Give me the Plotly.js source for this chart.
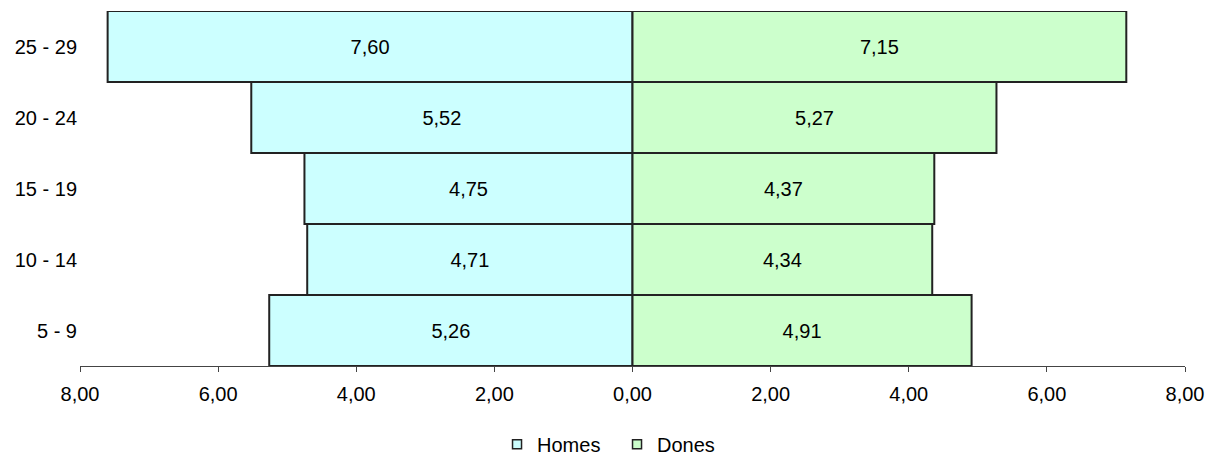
<!DOCTYPE html>
<html>
<head>
<meta charset="utf-8">
<script src="https://cdn.plot.ly/plotly-3.0.1.min.js"></script>
<style>html,body{margin:0;padding:0;background:#fff}#chart{width:1212px;height:456px}</style>
</head>
<body>
<div id="chart"></div>
<script>
var ageGroups = ['5 - 9', '10 - 14', '15 - 19', '20 - 24', '25 - 29'];
var homes = [5.26, 4.71, 4.75, 5.52, 7.60];
var dones = [4.91, 4.34, 4.37, 5.27, 7.15];
var xTickVals = [-8, -6, -4, -2, 0, 2, 4, 6, 8];
var xTickText = ['8,00', '6,00', '4,00', '2,00', '0,00', '2,00', '4,00', '6,00', '8,00'];
var seriesNames = ['Homes', 'Dones'];

function fmt(v) { return v.toFixed(2).replace('.', ','); }

var FONT = 'Liberation Sans, Arial, sans-serif';
var cHomes = '#CCFFFF', cDones = '#CCFFCC';

var traces = [
  {
    type: 'bar', orientation: 'h', name: seriesNames[0],
    y: ageGroups, x: homes.map(function (v) { return -v; }),
    text: homes.map(fmt), textposition: 'inside', insidetextanchor: 'middle',
    textfont: {family: FONT, size: 20, color: '#000'},
    marker: {color: cHomes, line: {color: '#222', width: 2}},
    showlegend: false, hoverinfo: 'skip'
  },
  {
    type: 'bar', orientation: 'h', name: seriesNames[1],
    y: ageGroups, x: dones,
    text: dones.map(fmt), textposition: 'inside', insidetextanchor: 'middle',
    textfont: {family: FONT, size: 20, color: '#000'},
    marker: {color: cDones, line: {color: '#222', width: 2}},
    showlegend: false, hoverinfo: 'skip'
  },
  {
    type: 'scatter', mode: 'markers', name: seriesNames[0], x: [null], y: [null],
    marker: {symbol: 'square', size: 9, color: cHomes, line: {color: '#222', width: 1.5}},
    showlegend: true
  },
  {
    type: 'scatter', mode: 'markers', name: seriesNames[1], x: [null], y: [null],
    marker: {symbol: 'square', size: 9, color: cDones, line: {color: '#222', width: 1.5}},
    showlegend: true
  }
];

var layout = {
  width: 1212, height: 456,
  margin: {l: 80, r: 27, t: 11, b: 90, pad: 0, autoexpand: false},
  paper_bgcolor: '#fff', plot_bgcolor: '#fff',
  font: {family: FONT, size: 20, color: '#000'},
  barmode: 'relative', bargap: 0,
  xaxis: {
    range: [-8, 8], tickmode: 'array', tickvals: xTickVals, ticktext: xTickText,
    showgrid: false, zeroline: true, zerolinecolor: '#222', zerolinewidth: 1,
    showline: true, linecolor: '#444', linewidth: 1,
    ticks: 'outside', ticklen: 5, tickcolor: '#444', tickwidth: 1, ticklabelstandoff: 5,
    tickfont: {family: FONT, size: 20, color: '#000'}, fixedrange: true, automargin: false
  },
  yaxis: {
    type: 'category', categoryorder: 'array', categoryarray: ageGroups,
    range: [-0.5, 4.5], showgrid: false, zeroline: false, showline: false,
    ticks: '', ticklabelstandoff: 2,
    tickfont: {family: FONT, size: 20, color: '#000'}, fixedrange: true, automargin: false
  },
  legend: {
    orientation: 'h', x: 0.486, xanchor: 'center', yref: 'container', y: 0.026, yanchor: 'middle',
    entrywidth: 75, entrywidthmode: 'pixels',
    font: {family: FONT, size: 20, color: '#000'}, bgcolor: 'rgba(0,0,0,0)'
  },
  showlegend: true
};

Plotly.newPlot('chart', traces, layout, {staticPlot: true, displayModeBar: false});
</script>
</body>
</html>
